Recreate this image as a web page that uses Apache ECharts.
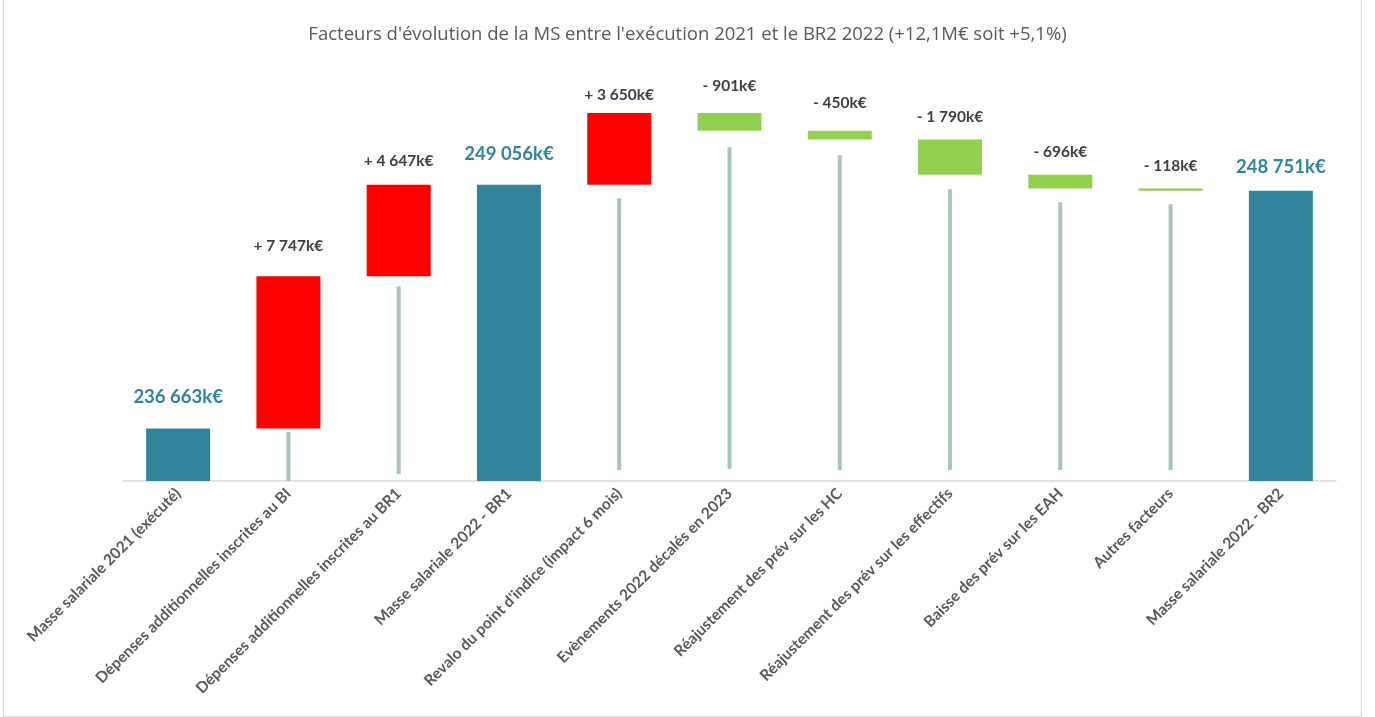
<!DOCTYPE html>
<html><head><meta charset="utf-8">
<script src="https://cdn.jsdelivr.net/npm/echarts@6/dist/echarts.min.js"></script>
<style>
html,body{margin:0;padding:0;background:#fff;}
#frame{position:absolute;left:3px;top:-1px;width:1359px;height:718px;border:1px solid #d9d9d9;box-sizing:border-box;}
#chart{position:absolute;left:0;top:0;width:1375px;height:717px;}
</style>
</head><body>
<div id="frame"></div>
<div id="chart"></div>
<script>
const categories = [
  "Masse salariale 2021 (exécuté)",
  "Dépenses additionnelles inscrites au BI",
  "Dépenses additionnelles inscrites au BR1",
  "Masse salariale 2022 - BR1",
  "Revalo du point d'indice (impact 6 mois)",
  "Evènements 2022 décalés en 2023",
  "Réajustement des prév sur les HC",
  "Réajustement des prév sur les effectifs",
  "Baisse des prév sur les EAH",
  "Autres facteurs",
  "Masse salariale 2022 - BR2"
];
// true = total bar; otherwise value is the change in k€
const isTotal = [true, false, false, true, false, false, false, false, false, false, true];
const values = [236663, 7747, 4647, 249056, 3650, -901, -450, -1790, -696, -118, 248751];
// thin grey connector lines (k€ bottom/top)
const lineLow  = [null, 234000, 234356, null, 234559, 234610, 234559, 234559, 234559, 234559, null];
const lineHigh = [null, 236489, 243904, null, 248374, 250964, 250558, 248831, 248170, 248069, null];
const labelGap = [32, 30, 24, 31, 18, 27, 28, 23, 23, 22, 24];

const AXIS_MIN = 234000, AXIS_MAX = 255400;

function fmt(n){
  return Math.abs(n).toString().replace(/\B(?=(\d{3})+(?!\d))/g, ' ');
}

const rows = [];
let running = 0;
for (let i = 0; i < categories.length; i++) {
  let low, high, color, text, tcolor, tsize;
  if (isTotal[i]) {
    running = values[i];
    low = AXIS_MIN; high = values[i];
    color = '#31849b'; text = fmt(values[i]) + 'k€'; tcolor = '#31849b'; tsize = 18.5;
  } else {
    const prev = running;
    running = prev + values[i];
    low = Math.min(prev, running); high = Math.max(prev, running);
    color = values[i] > 0 ? '#ff0000' : '#92d050';
    text = (values[i] > 0 ? '+ ' : '- ') + fmt(values[i]) + 'k€';
    tcolor = '#404040'; tsize = 15.5;
  }
  rows.push([i, low, high, color, text, tcolor, tsize, lineLow[i], lineHigh[i]]);
}

const chart = echarts.init(document.getElementById('chart'));
chart.setOption({
  animation: false,
  title: {
    text: "Facteurs d'évolution de la MS entre l'exécution 2021 et le BR2 2022 (+12,1M€ soit +5,1%)",
    left: 'center', top: 20,
    textStyle: { fontFamily: 'Open Sans', fontWeight: 'normal', fontSize: 18.5, color: '#595959' }
  },
  grid: { left: 123, right: 39, top: 60, bottom: 236 },
  xAxis: {
    type: 'category', data: categories,
    axisLine: { lineStyle: { color: '#d9d9d9', width: 1.5 } },
    axisTick: { show: false },
    axisLabel: { interval: 0, rotate: 45, margin: 10, color: '#595959', fontFamily: 'Lato', fontWeight: 'bold', fontSize: 15.5 }
  },
  yAxis: { type: 'value', min: AXIS_MIN, max: AXIS_MAX, show: false, splitLine: { show: false } },
  series: [{
    type: 'custom',
    data: rows,
    encode: { x: 0, y: [1, 2] },
    renderItem: function (params, api) {
      const i = api.value(0);
      const r = rows[i];
      const bw = api.size([1, 0])[0] * 0.58;
      const p1 = api.coord([i, r[1]]);
      const p2 = api.coord([i, r[2]]);
      const children = [];
      if (r[7] != null) {
        const l1 = api.coord([i, r[7]]);
        const l2 = api.coord([i, r[8]]);
        children.push({ type: 'rect', shape: { x: p1[0] - 2, y: l2[1], width: 4, height: l1[1] - l2[1] },
          style: { fill: '#a8c4bc' } });
      }
      children.push({ type: 'rect', shape: { x: p1[0] - bw / 2, y: p2[1], width: bw, height: Math.max(p1[1] - p2[1], 2) },
        style: { fill: r[3] } });
      children.push({ type: 'text', x: p1[0], y: p2[1] - labelGap[i],
        style: { text: r[4], fill: r[5], fontSize: r[6], fontWeight: 'bold', fontFamily: 'Lato', align: 'center', verticalAlign: 'middle' } });
      return { type: 'group', children: children };
    }
  }]
});
</script>
</body></html>
